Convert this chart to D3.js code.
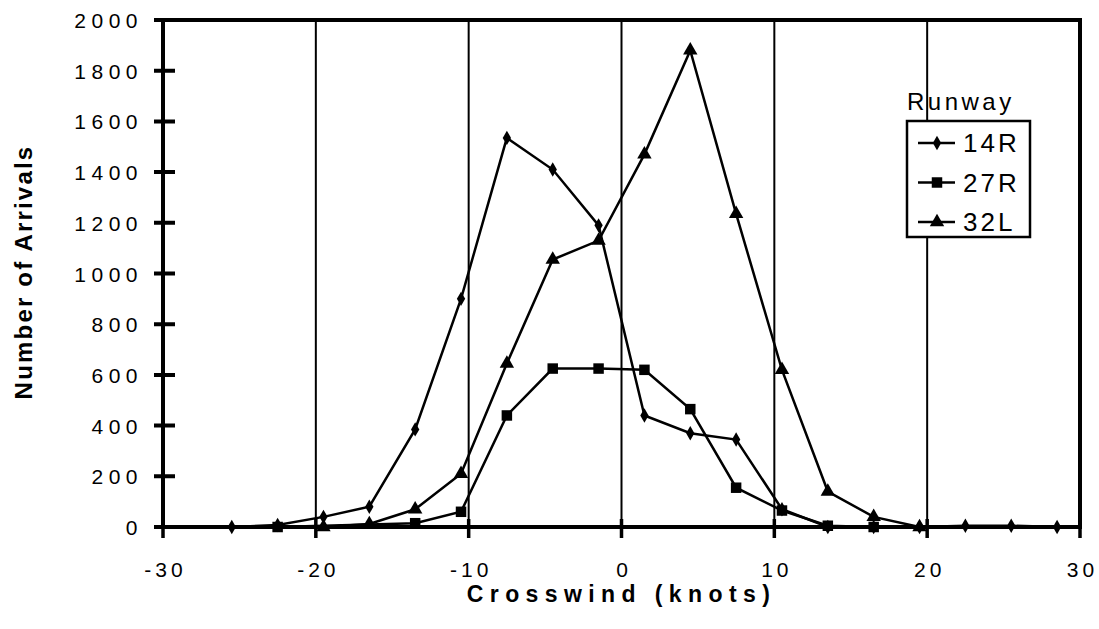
<!DOCTYPE html>
<html>
<head>
<meta charset="utf-8">
<script src="https://cdn.jsdelivr.net/npm/d3@7"></script>
<style>
  body { margin: 0; background: #fff; }
  svg { display: block; font-family: "Liberation Sans", Arial, sans-serif; }
</style>
</head>
<body>
<svg id="svg" width="1099" height="629"></svg>
<script>
// values
var xTicks = [-30, -20, -10, 0, 10, 20, 30];
var yTicks = [0, 200, 400, 600, 800, 1000, 1200, 1400, 1600, 1800, 2000];
var gridValues = [-20, -10, 0, 10, 20];

var crosswind14R = [-25.5, -22.5, -19.5, -16.5, -13.5, -10.5, -7.5, -4.5, -1.5, 1.5, 4.5, 7.5, 10.5, 13.5, 16.5, 19.5, 22.5, 25.5, 28.5];
var arrivals14R = [0, 8, 40, 80, 385, 900, 1535, 1410, 1190, 440, 370, 345, 70, 0, 0, 0, 5, 5, 0];

var crosswind27R = [-22.5, -13.5, -10.5, -7.5, -4.5, -1.5, 1.5, 4.5, 7.5, 10.5, 13.5, 16.5];
var arrivals27R = [0, 15, 60, 440, 625, 625, 620, 465, 155, 65, 5, 0];

var crosswind32L = [-19.5, -16.5, -13.5, -10.5, -7.5, -4.5, -1.5, 1.5, 4.5, 7.5, 10.5, 13.5, 16.5, 19.5];
var arrivals32L = [0, 12, 70, 210, 645, 1055, 1130, 1470, 1880, 1235, 620, 140, 40, 0];

function zipSeries(xs, ys) {
  return xs.map(function (x, i) { return {x: x, y: ys[i]}; });
}

var series = [
  {id: "14R", values: zipSeries(crosswind14R, arrivals14R), symbol: d3.symbolDiamond, size: 60},
  {id: "27R", values: zipSeries(crosswind27R, arrivals27R), symbol: d3.symbolSquare, size: 110},
  {id: "32L", values: zipSeries(crosswind32L, arrivals32L), symbol: d3.symbolTriangle, size: 90}
];

var svg = d3.select("#svg"),
  margin = {top: 20, right: 19, bottom: 102, left: 163},
  width = +svg.attr("width") - margin.left - margin.right,
  height = +svg.attr("height") - margin.top - margin.bottom,
  g = svg.append("g").attr("transform", "translate(" + margin.left + "," + margin.top + ")");

var x = d3.scaleLinear().domain([-30, 30]).range([0, width]),
  y = d3.scaleLinear().domain([0, 2000]).range([height, 0]);

var plainNum = function (d) { return String(d); };

// vertical grid lines
g.append("g")
  .selectAll("line")
  .data(gridValues)
  .enter()
  .append("line")
  .attr("x1", function (d) { return x(d); })
  .attr("x2", function (d) { return x(d); })
  .attr("y1", 0)
  .attr("y2", height)
  .attr("stroke", "#000")
  .attr("stroke-width", 2);

// thick frame
g.append("rect")
  .attr("x", 0)
  .attr("y", 0)
  .attr("width", width)
  .attr("height", height)
  .attr("fill", "none")
  .attr("stroke", "#000")
  .attr("stroke-width", 4);

// cross ticks, one path per axis
var xTickPath = xTicks.map(function (d) {
  return "M" + x(d) + "," + (height - 8) + "V" + (height + 11);
}).join("");
var yTickPath = yTicks.map(function (d) {
  return "M-9," + y(d) + "H12";
}).join("");

g.append("path")
  .attr("d", xTickPath)
  .attr("fill", "none")
  .attr("stroke", "#000")
  .attr("stroke-width", 3.5);

g.append("path")
  .attr("d", yTickPath)
  .attr("fill", "none")
  .attr("stroke", "#000")
  .attr("stroke-width", 4);

// x axis labels
var xAxis = g.append("g")
  .attr("transform", "translate(0," + height + ")")
  .call(d3.axisBottom(x).tickValues(xTicks).tickFormat(plainNum).tickSize(0));
xAxis.select(".domain").remove();
xAxis.selectAll(".tick line").remove();
xAxis.selectAll(".tick text")
  .attr("y", 50)
  .attr("dy", 0)
  .attr("dx", "2px")
  .attr("font-size", 21)
  .attr("letter-spacing", "4px")
  .attr("font-family", "Liberation Sans, Arial, sans-serif")
  .attr("fill", "#000");

// y axis labels
var yAxis = g.append("g")
  .call(d3.axisLeft(y).tickValues(yTicks).tickFormat(plainNum).tickSize(0));
yAxis.select(".domain").remove();
yAxis.selectAll(".tick line").remove();
yAxis.selectAll(".tick text")
  .attr("x", -20)
  .attr("dy", "0.36em")
  .attr("font-size", 21)
  .attr("letter-spacing", "5.5px")
  .attr("font-family", "Liberation Sans, Arial, sans-serif")
  .attr("fill", "#000");

// axis titles
svg.append("text")
  .attr("x", margin.left + x(0))
  .attr("y", 602)
  .attr("text-anchor", "middle")
  .attr("font-size", 23)
  .attr("font-weight", "bold")
  .attr("letter-spacing", "6.4px")
  .text("Crosswind (knots)");

svg.append("text")
  .attr("transform", "translate(32,272) rotate(-90)")
  .attr("text-anchor", "middle")
  .attr("font-size", 24)
  .attr("font-weight", "bold")
  .attr("letter-spacing", "2.2px")
  .text("Number of Arrivals");

// lines and markers
var line = d3.line()
  .x(function (d) { return x(d.x); })
  .y(function (d) { return y(d.y); });

var runway = g.selectAll(".runway")
  .data(series)
  .enter()
  .append("g")
  .attr("class", "runway");

runway.append("path")
  .attr("d", function (d) { return line(d.values); })
  .attr("fill", "none")
  .attr("stroke", "#000")
  .attr("stroke-width", 2.5);

runway.each(function (s) {
  d3.select(this).selectAll("path.mark")
    .data(s.values)
    .enter()
    .append("path")
    .attr("class", "mark")
    .attr("transform", function (d) { return "translate(" + x(d.x) + "," + y(d.y) + ")"; })
    .attr("d", d3.symbol().type(s.symbol).size(s.size))
    .attr("fill", "#000");
});

// legend
var legend = svg.append("g").attr("transform", "translate(907,121)");

legend.append("text")
  .attr("x", 0)
  .attr("y", -11)
  .attr("font-size", 24)
  .attr("letter-spacing", "3.5px")
  .text("Runway");

legend.append("rect")
  .attr("width", 123)
  .attr("height", 116)
  .attr("fill", "#fff")
  .attr("stroke", "#000")
  .attr("stroke-width", 2.5);

var item = legend.selectAll(".item")
  .data(series)
  .enter()
  .append("g")
  .attr("class", "item")
  .attr("transform", function (d, i) { return "translate(0," + (22 + i * 39.5) + ")"; });

item.append("line")
  .attr("x1", 11)
  .attr("x2", 48)
  .attr("stroke", "#000")
  .attr("stroke-width", 2.5);

item.append("path")
  .attr("transform", "translate(30,0)")
  .attr("d", function (d) { return d3.symbol().type(d.symbol).size(d.size)(); })
  .attr("fill", "#000");

item.append("text")
  .attr("x", 56)
  .attr("dy", "0.36em")
  .attr("font-size", 26)
  .attr("letter-spacing", "3px")
  .text(function (d) { return d.id; });
</script>
</body>
</html>
